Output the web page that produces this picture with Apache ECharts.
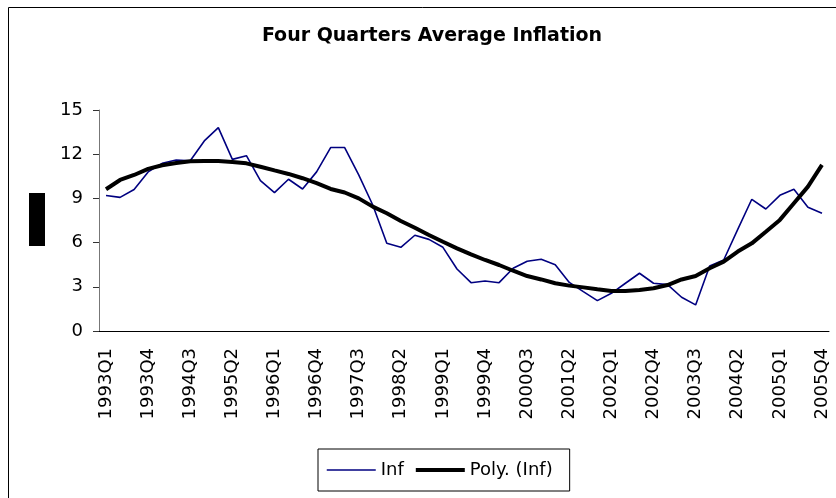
<!DOCTYPE html>
<html>
<head>
<meta charset="utf-8">
<script src="https://cdn.jsdelivr.net/npm/echarts@6/dist/echarts.min.js"></script>
<style>html,body{margin:0;padding:0;background:#fff;}#c{width:836px;height:498px;}</style>
</head>
<body>
<div id="c"></div>
<script>
var quarters = [
 '1993Q1','1993Q2','1993Q3','1993Q4','1994Q1','1994Q2','1994Q3','1994Q4',
 '1995Q1','1995Q2','1995Q3','1995Q4','1996Q1','1996Q2','1996Q3','1996Q4',
 '1997Q1','1997Q2','1997Q3','1997Q4','1998Q1','1998Q2','1998Q3','1998Q4',
 '1999Q1','1999Q2','1999Q3','1999Q4','2000Q1','2000Q2','2000Q3','2000Q4',
 '2001Q1','2001Q2','2001Q3','2001Q4','2002Q1','2002Q2','2002Q3','2002Q4',
 '2003Q1','2003Q2','2003Q3','2003Q4','2004Q1','2004Q2','2004Q3','2004Q4',
 '2005Q1','2005Q2','2005Q3','2005Q4'
];
var inf = [
 9.2, 9.07, 9.6, 10.8, 11.38, 11.6, 11.56, 12.9, 13.8, 11.65, 11.9, 10.2,
 9.39, 10.3, 9.64, 10.8, 12.45, 12.45, 10.6, 8.55, 5.95, 5.68, 6.5, 6.22,
 5.68, 4.21, 3.28, 3.39, 3.28, 4.26, 4.73, 4.87, 4.5, 3.3, 2.67, 2.06,
 2.56, 3.24, 3.92, 3.24, 3.15, 2.29, 1.77, 4.41, 4.82, 6.9, 8.94, 8.28,
 9.21, 9.62, 8.4, 7.99
];
var poly = [
 9.62, 10.25, 10.59, 11.0, 11.25, 11.4, 11.52, 11.54, 11.54, 11.47, 11.38, 11.15,
 10.9, 10.66, 10.37, 10.03, 9.64, 9.4, 9.0, 8.44, 7.99, 7.47, 7.01, 6.52,
 6.06, 5.61, 5.2, 4.82, 4.48, 4.09, 3.73, 3.5, 3.24, 3.08, 2.96, 2.83,
 2.72, 2.72, 2.78, 2.9, 3.12, 3.5, 3.73, 4.26, 4.71, 5.39, 5.95, 6.74,
 7.54, 8.67, 9.8, 11.27
];
var seriesNames = ['Inf', 'Poly. (Inf)'];
var titleText = 'Four Quarters Average Inflation';

var chart = echarts.init(document.getElementById('c'), null, {renderer: 'canvas'});
var font = 'DejaVu Sans';
chart.setOption({
  animation: false,
  backgroundColor: '#fff',
  title: {
    text: titleText,
    left: 427,
    top: 22,
    textAlign: 'center',
    textStyle: {fontFamily: font, fontSize: 19, fontWeight: 'bold', color: '#000'}
  },
  graphic: [
    {type: 'rect', shape: {x: 8.5, y: 7.5, width: 840, height: 500}, style: {fill: 'none', stroke: '#000', lineWidth: 1}, silent: true},
    {type: 'rect', shape: {x: 29, y: 193, width: 16, height: 53}, style: {fill: '#000'}, silent: true}
  ],
  grid: {left: 99, right: 7, top: 110, bottom: 167, containLabel: false},
  legend: {
    data: [
      {name: seriesNames[0], lineStyle: {width: 1.5, color: '#000080'}},
      {name: seriesNames[1], lineStyle: {width: 4, color: '#000'}}
    ],
    left: 318,
    top: 449,
    orient: 'horizontal',
    padding: [12, 17, 12, 8],
    itemWidth: 49,
    itemHeight: 18,
    itemGap: 10,
    borderColor: '#000',
    borderWidth: 1,
    itemStyle: {color: 'rgba(0,0,0,0)', borderWidth: 0, opacity: 0},
    textStyle: {fontFamily: font, fontSize: 18, color: '#000'}
  },
  xAxis: {
    type: 'category',
    data: quarters,
    boundaryGap: true,
    axisLine: {lineStyle: {color: '#000', width: 1}},
    axisTick: {interval: 0, length: 6, alignWithLabel: false, lineStyle: {color: '#444'}},
    axisLabel: {interval: 2, rotate: 90, margin: 17, fontFamily: font, fontSize: 18, color: '#000'},
    splitLine: {show: false}
  },
  yAxis: {
    type: 'value',
    min: 0,
    max: 15,
    interval: 3,
    axisLine: {show: true, lineStyle: {color: '#777', width: 1}},
    axisTick: {show: true, length: 6, lineStyle: {color: '#333'}},
    axisLabel: {margin: 16, fontFamily: font, fontSize: 18, color: '#000'},
    splitLine: {show: false}
  },
  series: [
    {name: seriesNames[0], type: 'line', data: inf, symbol: 'none', smooth: false,
     lineStyle: {color: '#000080', width: 1.6}, itemStyle: {color: '#000080'}, z: 2},
    {name: seriesNames[1], type: 'line', data: poly, symbol: 'none', smooth: false,
     lineStyle: {color: '#000', width: 4}, itemStyle: {color: '#000'}, z: 3}
  ]
});
</script>
</body>
</html>
